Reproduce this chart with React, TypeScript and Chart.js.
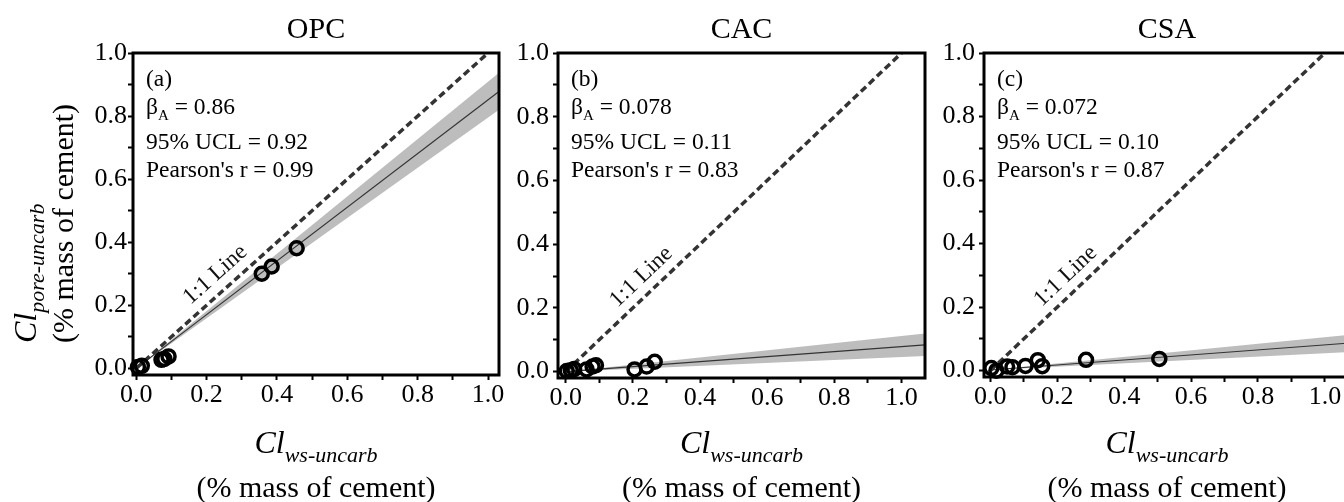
import React, { useEffect, useRef } from "react";
import { Chart, registerables } from "chart.js";

Chart.register(...registerables);

// ---------- data ----------
const panelTitles = ["OPC", "CAC", "CSA"];
const panelTags = ["(a)", "(b)", "(c)"];
const betaValues = ["0.86", "0.078", "0.072"];
const uclValues = ["0.92", "0.11", "0.10"];
const pearsonValues = ["0.99", "0.83", "0.87"];

const axisTicks = [0, 0.1, 0.2, 0.3, 0.4, 0.5, 0.6, 0.7, 0.8, 0.9, 1.0];
const majorTickLabels = ["0.0", "0.2", "0.4", "0.6", "0.8", "1.0"];

// measured points (Cl_ws-uncarb, Cl_pore-uncarb)
const opcX = [0.005, 0.016, 0.072, 0.08, 0.092, 0.357, 0.385, 0.456];
const opcY = [0.004, 0.008, 0.027, 0.03, 0.038, 0.3, 0.323, 0.381];
const cacX = [0.003, 0.015, 0.025, 0.062, 0.08, 0.09, 0.205, 0.241, 0.265];
const cacY = [0.002, 0.004, 0.008, 0.007, 0.016, 0.02, 0.007, 0.016, 0.031];
const csaX = [0.003, 0.018, 0.05, 0.066, 0.105, 0.142, 0.155, 0.286, 0.505];
const csaY = [0.008, 0.0, 0.013, 0.011, 0.015, 0.033, 0.014, 0.034, 0.037];

// regression line and confidence band end points
const opcFitX = [0, 1.031];
const opcFitY = [0, 0.878];
const opcBandUpper = [0, 0.937];
const opcBandLower = [0, 0.82];
const cacFitX = [0, 1.07];
const cacFitY = [0, 0.084];
const cacBandUpper = [0, 0.12];
const cacBandLower = [0, 0.049];
const csaFitX = [0, 1.075];
const csaFitY = [0.002, 0.087];
const csaBandUpper = [0.002, 0.113];
const csaBandLower = [0.002, 0.059];

const oneToOneX = [0, 1.0];
const oneToOneY = [0, 1.0];

// ---------- layout / style ----------
const SERIF = '"Liberation Serif", "Times New Roman", Times, serif';
const CANVAS_W = 1400;
const CANVAS_H = 502;
const Y_W = 60;
const X_H = 40;

const panels = [
  { px: opcX, py: opcY, fx: opcFitX, fy: opcFitY, up: opcBandUpper, lo: opcBandLower,
    area: { l: 133, r: 499, t: 53, b: 375 }, xMin: -0.009, xMax: 1.031, yMin: -0.021, yPad: 1 },
  { px: cacX, py: cacY, fx: cacFitX, fy: cacFitY, up: cacBandUpper, lo: cacBandLower,
    area: { l: 558, r: 925, t: 53, b: 378 }, xMin: -0.023, xMax: 1.07, yMin: -0.02, yPad: 4 },
  { px: csaX, py: csaY, fx: csaFitX, fy: csaFitY, up: csaBandUpper, lo: csaBandLower,
    area: { l: 984, r: 1350, t: 53, b: 377 }, xMin: -0.019, xMax: 1.075, yMin: -0.02, yPad: 4 },
];

type Part = { text: string; size: number; italic?: boolean; dy?: number };

function partsWidth(ctx: CanvasRenderingContext2D, parts: Part[]) {
  let w = 0;
  for (const p of parts) {
    ctx.font = `${p.italic ? "italic " : ""}${p.size}px ${SERIF}`;
    w += ctx.measureText(p.text).width;
  }
  return w;
}

function drawParts(ctx: CanvasRenderingContext2D, x: number, y: number, parts: Part[]) {
  let cx = x;
  for (const p of parts) {
    ctx.font = `${p.italic ? "italic " : ""}${p.size}px ${SERIF}`;
    ctx.fillText(p.text, cx, y + (p.dy || 0));
    cx += ctx.measureText(p.text).width;
  }
}

function makeDecor(i: number) {
  return {
    id: "panelDecor" + i,
    afterDatasetsDraw(chart: any) {
      const { ctx, chartArea: a, scales } = chart;
      const xs = scales.x;
      const ys = scales.y;
      ctx.save();
      ctx.fillStyle = "#000";
      ctx.textBaseline = "alphabetic";
      ctx.textAlign = "left";

      // frame
      ctx.lineWidth = 3;
      ctx.strokeStyle = "#000";
      ctx.strokeRect(a.left, a.top, a.right - a.left, a.bottom - a.top);

      // 1:1 label
      const ang = Math.atan2(
        ys.getPixelForValue(1) - ys.getPixelForValue(0),
        xs.getPixelForValue(1) - xs.getPixelForValue(0)
      );
      ctx.save();
      ctx.translate(xs.getPixelForValue(0.225), ys.getPixelForValue(0.297));
      ctx.rotate(ang);
      ctx.font = `23px ${SERIF}`;
      ctx.textAlign = "center";
      ctx.textBaseline = "middle";
      ctx.fillStyle = "#111";
      ctx.fillText("1:1 Line", 0, 0);
      ctx.restore();

      // annotations
      const lx = a.left + 13;
      const fs = 23.5;
      drawParts(ctx, lx, a.top + 33, [{ text: panelTags[i], size: fs }]);
      drawParts(ctx, lx, a.top + 61, [
        { text: "β", size: fs },
        { text: "A", size: 15, dy: 6 },
        { text: " = " + betaValues[i], size: fs },
      ]);
      drawParts(ctx, lx, a.top + 96, [{ text: "95% UCL = " + uclValues[i], size: fs }]);
      drawParts(ctx, lx, a.top + 124, [{ text: "Pearson's r = " + pearsonValues[i], size: fs }]);

      // panel title
      const cxm = (a.left + a.right) / 2;
      const tparts: Part[] = [{ text: panelTitles[i], size: 30 }];
      drawParts(ctx, cxm - partsWidth(ctx, tparts) / 2, 38, tparts);

      // x-axis title
      const xt1: Part[] = [
        { text: "Cl", size: 32, italic: true },
        { text: "ws-uncarb", size: 22, italic: true, dy: 9 },
      ];
      drawParts(ctx, cxm - partsWidth(ctx, xt1) / 2, 453, xt1);
      const xt2: Part[] = [{ text: "(% mass of cement)", size: 30 }];
      drawParts(ctx, cxm - partsWidth(ctx, xt2) / 2, 497, xt2);

      // y-axis title (first panel only)
      if (i === 0) {
        ctx.save();
        ctx.translate(0, 343);
        ctx.rotate(-Math.PI / 2);
        drawParts(ctx, 0, 36, [
          { text: "Cl", size: 32, italic: true },
          { text: "pore-uncarb", size: 22, italic: true, dy: 8 },
        ]);
        drawParts(ctx, 0, 73, [{ text: "(% mass of cement)", size: 30 }]);
        ctx.restore();
      }
      ctx.restore();
    },
  };
}

function tickLabel(value: number) {
  const k = Math.round(value * 10);
  return k % 2 === 0 ? majorTickLabels[k / 2] : "";
}

function buildConfig(i: number): any {
  const p = panels[i];
  const pts = p.px.map((x, k) => ({ x, y: p.py[k] }));
  const fit = p.fx.map((x, k) => ({ x, y: p.fy[k] }));
  const up = p.fx.map((x, k) => ({ x, y: p.up[k] }));
  const lo = p.fx.map((x, k) => ({ x, y: p.lo[k] }));
  const one = oneToOneX.map((x, k) => ({ x, y: oneToOneY[k] }));
  const tickFont = { family: SERIF, size: 26, lineHeight: 1 };
  const grid = {
    drawOnChartArea: false,
    drawTicks: true,
    tickLength: 5,
    tickWidth: 2,
    tickColor: "#000",
  };
  return {
    type: "scatter",
    data: {
      datasets: [
        {
          data: pts,
          showLine: false,
          pointRadius: 6.5,
          pointBorderWidth: 3.5,
          pointBorderColor: "#000",
          pointBackgroundColor: "rgba(0,0,0,0)",
          clip: false,
          order: 0,
        },
        {
          data: fit,
          showLine: true,
          pointRadius: 0,
          borderColor: "#333",
          borderWidth: 1.2,
          fill: false,
          order: 1,
        },
        {
          data: one,
          showLine: true,
          pointRadius: 0,
          borderColor: "#333",
          borderWidth: 3.5,
          borderDash: [7, 4],
          fill: false,
          order: 2,
        },
        {
          data: up,
          showLine: true,
          pointRadius: 0,
          borderWidth: 0,
          borderColor: "rgba(0,0,0,0)",
          backgroundColor: "#bdbdbd",
          fill: "+1",
          order: 3,
        },
        {
          data: lo,
          showLine: true,
          pointRadius: 0,
          borderWidth: 0,
          borderColor: "rgba(0,0,0,0)",
          fill: false,
          order: 4,
        },
      ],
    },
    options: {
      responsive: false,
      animation: false,
      devicePixelRatio: 1,
      events: [],
      layout: {
        padding: {
          left: p.area.l - Y_W,
          right: CANVAS_W - p.area.r,
          top: p.area.t,
          bottom: CANVAS_H - p.area.b - X_H,
        },
      },
      plugins: { legend: { display: false }, tooltip: { enabled: false }, title: { display: false } },
      scales: {
        x: {
          type: "linear",
          min: p.xMin,
          max: p.xMax,
          afterFit: (s: any) => {
            s.height = X_H;
          },
          afterBuildTicks: (s: any) => {
            s.ticks = axisTicks.map((v) => ({ value: v }));
          },
          ticks: {
            callback: (v: number) => tickLabel(v),
            font: tickFont,
            color: "#000",
            padding: 2,
            autoSkip: false,
            maxRotation: 0,
          },
          grid,
          border: { display: false },
        },
        y: {
          type: "linear",
          min: p.yMin,
          max: 1.0,
          afterFit: (s: any) => {
            s.width = Y_W;
          },
          afterBuildTicks: (s: any) => {
            s.ticks = axisTicks.map((v) => ({ value: v }));
          },
          ticks: {
            callback: (v: number) => tickLabel(v),
            font: tickFont,
            color: "#000",
            padding: p.yPad,
            autoSkip: false,
          },
          grid,
          border: { display: false },
        },
      },
    },
    plugins: [makeDecor(i)],
  };
}

function Panel({ index }: { index: number }) {
  const ref = useRef<HTMLCanvasElement | null>(null);
  useEffect(() => {
    if (!ref.current) return;
    const chart = new Chart(ref.current, buildConfig(index));
    return () => chart.destroy();
  }, [index]);
  return (
    <canvas
      ref={ref}
      width={CANVAS_W}
      height={CANVAS_H}
      style={{ position: "absolute", left: 0, top: 0, width: CANVAS_W, height: CANVAS_H }}
    />
  );
}

export default function App() {
  return (
    <div
      style={{
        position: "absolute",
        left: 0,
        top: 0,
        width: 1344,
        height: 502,
        overflow: "hidden",
        background: "#fff",
      }}
    >
      <Panel index={0} />
      <Panel index={1} />
      <Panel index={2} />
    </div>
  );
}
